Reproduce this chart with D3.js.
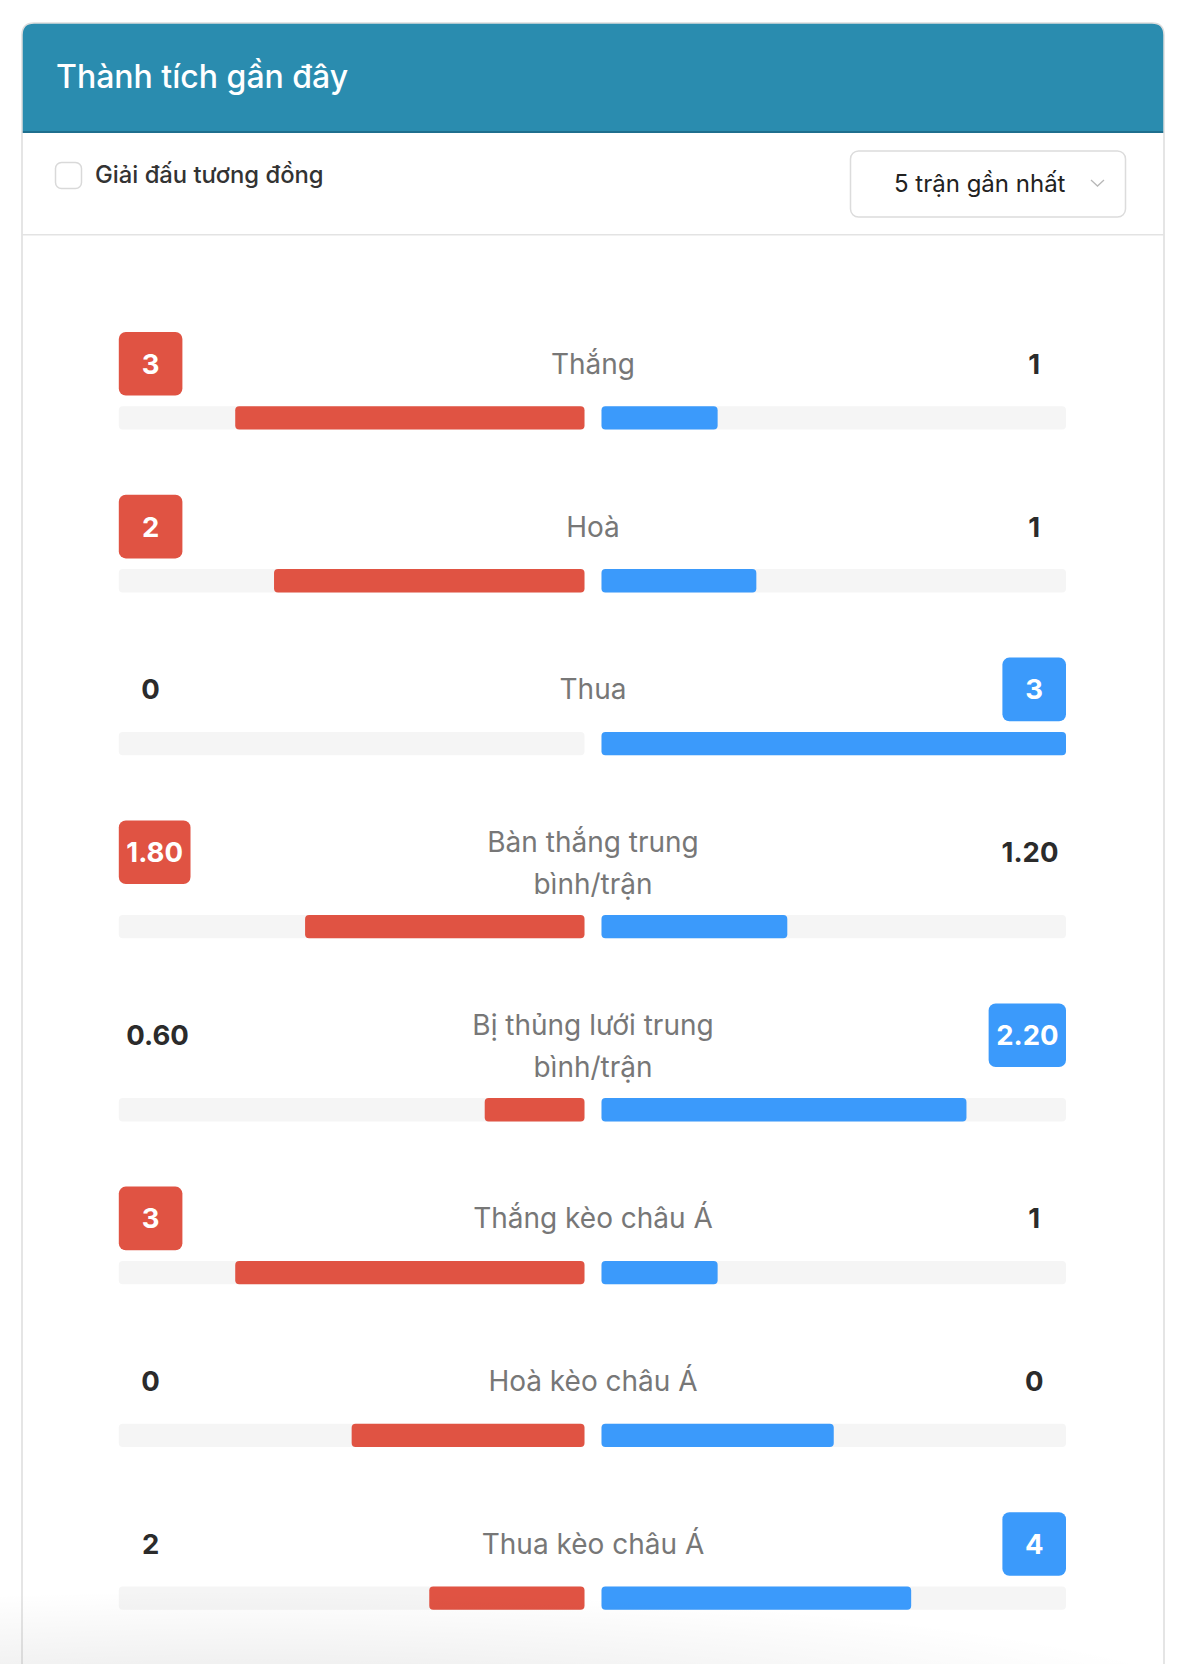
<!DOCTYPE html>
<html>
<head>
<meta charset="utf-8">
<script src="https://cdn.jsdelivr.net/npm/d3@7"></script>
<style>
  body { margin: 0; background: #fff; }
  svg { display: block; font-family: Inter, "Noto Sans", sans-serif; }
</style>
</head>
<body>
<div id="vis"></div>
<script>
'use strict';

// data
var labels = ['Thắng', 'Hoà', 'Thua', 'Bàn thắng trung bình/trận', 'Bị thủng lưới trung bình/trận',
  'Thắng kèo châu Á', 'Hoà kèo châu Á', 'Thua kèo châu Á'];
var homeValues = [3, 2, 0, 1.80, 0.60, 3, 0, 2];
var awayValues = [1, 1, 3, 1.20, 2.20, 1, 0, 4];
var decimals = [0, 0, 0, 2, 2, 0, 0, 0];

var title = 'Thành tích gần đây';
var checkLabel = 'Giải đấu tương đồng';
var selectLabel = '5 trận gần nhất';

var width = 1186, height = 1664;
var red = '#e05343', blue = '#3b9afb', track = '#f5f5f5';

var svg = d3.select('#vis').append('svg')
  .attr('width', width)
  .attr('height', height);

var defs = svg.append('defs');
var rg = defs.append('radialGradient').attr('id', 'shade')
  .attr('gradientUnits', 'userSpaceOnUse')
  .attr('cx', 250).attr('cy', 1720).attr('r', 1000)
  .attr('gradientTransform', 'translate(250,1720) scale(1,0.13) translate(-250,-1720)');
rg.append('stop').attr('offset', 0).attr('stop-color', '#000').attr('stop-opacity', 0.1);
rg.append('stop').attr('offset', 0.6).attr('stop-color', '#000').attr('stop-opacity', 0.04);
rg.append('stop').attr('offset', 1).attr('stop-color', '#000').attr('stop-opacity', 0);

// card
var cardL = 22, cardR = 1164, cardT = 23, headB = 131, rad = 12;
svg.append('path')
  .attr('d', 'M' + cardL + ',' + headB + ' V' + (cardT + rad) + ' Q' + cardL + ',' + cardT + ' ' + (cardL + rad) + ',' + cardT +
    ' H' + (cardR - rad) + ' Q' + cardR + ',' + cardT + ' ' + cardR + ',' + (cardT + rad) + ' V' + headB + ' Z')
  .attr('fill', '#2a8caf');
svg.append('rect').attr('x', cardL).attr('y', headB).attr('width', cardR - cardL).attr('height', 2).attr('fill', '#1f6f8e');
svg.append('path')
  .attr('d', 'M' + cardL + ',' + (height + 5) + ' V' + (cardT + rad) + ' Q' + cardL + ',' + cardT + ' ' + (cardL + rad) + ',' + cardT +
    ' H' + (cardR - rad) + ' Q' + cardR + ',' + cardT + ' ' + cardR + ',' + (cardT + rad) + ' V' + (height + 5))
  .attr('fill', 'none').attr('stroke', '#dddddd').attr('stroke-width', 1.5);

svg.append('text').attr('x', 56).attr('y', 88)
  .attr('fill', '#fff').attr('font-size', 32).attr('font-weight', 500)
  .text(title);

// controls row
svg.append('rect').attr('x', 55.5).attr('y', 162.5).attr('width', 26).attr('height', 26).attr('rx', 6)
  .attr('fill', '#fff').attr('stroke', '#d9d9d9').attr('stroke-width', 1.5);
svg.append('text').attr('x', 95).attr('y', 183)
  .attr('fill', '#333').attr('font-size', 23.8).attr('font-weight', 500)
  .text(checkLabel);

svg.append('rect').attr('x', 850.5).attr('y', 151).attr('width', 275).attr('height', 66).attr('rx', 8)
  .attr('fill', '#fff').attr('stroke', '#dcdcdc').attr('stroke-width', 1.5);
svg.append('text').attr('x', 894).attr('y', 192)
  .attr('fill', '#222').attr('font-size', 24)
  .text(selectLabel);
svg.append('path').attr('d', 'M1091,180 L1097.5,186 L1104,180')
  .attr('fill', 'none').attr('stroke', '#b8b8b8').attr('stroke-width', 1.3);

svg.append('rect').attr('x', cardL).attr('y', 234).attr('width', cardR - cardL).attr('height', 1.5).attr('fill', '#e3e3e3');

// rows
var leftEdge = 118.8, rightEdge = 1066, midL = 584.5, midR = 601.5;
var xL = d3.scaleLinear().domain([0, 1]).range([0, midL - leftEdge]);
var xR = d3.scaleLinear().domain([0, 1]).range([0, rightEdge - midR]);

var boxH = 63.6, lineH = 42.4, labelSize = 28, valueSize = 27.5;
var measure = svg.append('text').attr('font-size', labelSize).attr('visibility', 'hidden');

function wrap(str, maxW) {
  var words = str.split(' '), lines = [], cur = '';
  words.forEach(function (w) {
    var test = cur ? cur + ' ' + w : w;
    measure.text(test);
    if (cur && measure.node().getComputedTextLength() > maxW) { lines.push(cur); cur = w; }
    else cur = test;
  });
  lines.push(cur);
  return lines;
}

var rows = [];
var y = 332;
labels.forEach(function (lab, i) {
  var lines = wrap(lab, 280);
  var extra = (lines.length - 1) * 20.3;
  var h = homeValues[i], a = awayValues[i], s = h + a;
  rows.push({
    y: y, lines: lines, barY: y + 74.3 + extra,
    h: h, a: a,
    fh: s === 0 ? 0.5 : h / s, fa: s === 0 ? 0.5 : a / s,
    th: h.toFixed(decimals[i]), ta: a.toFixed(decimals[i])
  });
  y += 162.8 + extra;
});
measure.remove();

var g = svg.selectAll('g.row').data(rows).enter().append('g').attr('class', 'row');

g.each(function (d) {
  var row = d3.select(this);
  var cy = d.y + boxH / 2;

  // label
  var first = cy - (d.lines.length - 1) * lineH / 4;
  row.selectAll('text.lab').data(d.lines).enter().append('text')
    .attr('x', (midL + midR) / 2).attr('y', function (l, k) { return first + k * lineH; })
    .attr('dy', '0.36em').attr('text-anchor', 'middle')
    .attr('font-size', labelSize).attr('fill', '#777')
    .text(function (l) { return l; });

  // values
  [['h', d.th, d.h > d.a, red], ['a', d.ta, d.a > d.h, blue]].forEach(function (v) {
    var t = row.append('text').attr('font-size', valueSize).attr('font-weight', 700)
      .attr('text-anchor', 'middle').attr('dy', '0.36em').attr('y', cy)
      .attr('fill', v[2] ? '#fff' : '#2b2b2b').text(v[1]);
    var w = Math.max(boxH, t.node().getComputedTextLength() + 15);
    var bx = v[0] === 'h' ? leftEdge : rightEdge - w;
    t.attr('x', bx + w / 2);
    if (v[2]) {
      row.insert('rect', 'text').attr('x', bx).attr('y', d.y).attr('width', w).attr('height', boxH)
        .attr('rx', 7).attr('fill', v[3]);
    }
  });

  // tracks and bars
  row.append('rect').attr('x', leftEdge).attr('y', d.barY).attr('width', midL - leftEdge).attr('height', 23.3)
    .attr('rx', 4).attr('fill', track);
  row.append('rect').attr('x', midR).attr('y', d.barY).attr('width', rightEdge - midR).attr('height', 23.3)
    .attr('rx', 4).attr('fill', track);
  row.append('rect').attr('x', midL - xL(d.fh)).attr('y', d.barY).attr('width', xL(d.fh)).attr('height', 23.3)
    .attr('rx', 4).attr('fill', red);
  row.append('rect').attr('x', midR).attr('y', d.barY).attr('width', xR(d.fa)).attr('height', 23.3)
    .attr('rx', 4).attr('fill', blue);
});

// soft shade at the bottom edge
svg.append('rect').attr('x', 0).attr('y', 1560).attr('width', width).attr('height', height - 1560)
  .attr('fill', 'url(#shade)');
</script>
</body>
</html>
